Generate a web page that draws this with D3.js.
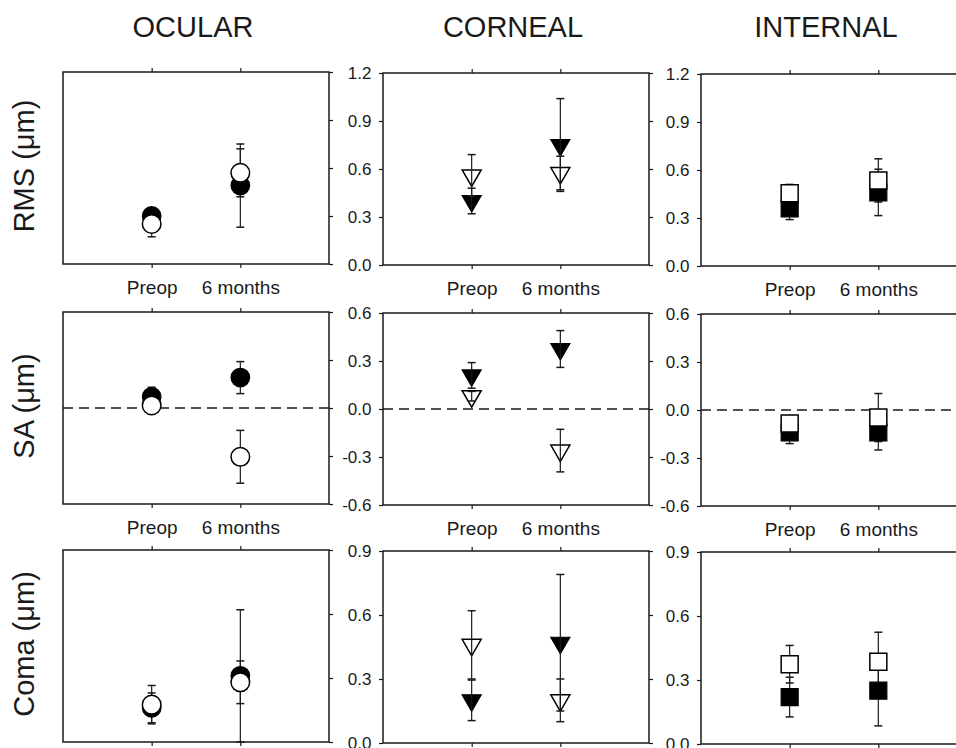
<!DOCTYPE html>
<html>
<head>
<meta charset="utf-8">
<script src="https://cdn.jsdelivr.net/npm/d3@7"></script>
<style>
  body { margin: 0; background: #fff; }
  svg { display: block; font-family: "Liberation Sans", Arial, sans-serif; }
</style>
</head>
<body>
<svg id="chart" width="956" height="748"></svg>
<script>
// column / row names
const columns = ["OCULAR", "CORNEAL", "INTERNAL"];
const rowTitles = ["RMS (\u03bcm)", "SA (\u03bcm)", "Coma (\u03bcm)"];
const timepoints = ["Preop", "6 months"];

// y axis per row
const yDomains = [[0, 1.2], [-0.6, 0.6], [0, 0.9]];
const yTicks = [
    [0, 0.3, 0.6, 0.9, 1.2],
    [-0.6, -0.3, 0, 0.3, 0.6],
    [0, 0.3, 0.6, 0.9]
];

// values indexed [row][column][timepoint]
const filledMean = [
    [[0.30, 0.49], [0.40, 0.75], [0.36, 0.46]],
    [[0.07, 0.19], [0.21, 0.375], [-0.14, -0.14]],
    [[0.16, 0.31], [0.20, 0.47], [0.22, 0.25]]
];
const filledErr = [
    [[0.03, 0.26], [0.08, 0.29], [0.07, 0.145]],
    [[0.06, 0.10], [0.08, 0.115], [0.07, 0.11]],
    [[0.07, 0.31], [0.095, 0.32], [0.093, 0.165]]
];
const openMean = [
    [[0.25, 0.57], [0.56, 0.575], [0.455, 0.535]],
    [[0.016, -0.305], [0.08, -0.26], [-0.085, -0.047]],
    [[0.175, 0.28], [0.46, 0.20], [0.374, 0.386]]
];
const openErr = [
    [[0.08, 0.15], [0.13, 0.105], [0.055, 0.135]],
    [[0.04, 0.165], [0.03, 0.133], [0.05, 0.15]],
    [[0.09, 0.10], [0.16, 0.10], [0.088, 0.138]]
];

// layout
const colX = [63, 383, 701];
const colDy = [0, 1, 2];
const rowY = [72, 312, 550];
const panelW = 266;
const panelH = 192;
const titleX = [193, 513, 826];
const ink = "#1a1a1a";

const svg = d3.select("#chart");

// symbol per column: circle, down triangle, square
const symbolFor = [
    d3.symbol(d3.symbolCircle, Math.PI * 9.3 * 9.3),
    d3.symbol(d3.symbolTriangle, 157),
    d3.symbol(d3.symbolSquare, 289)
];

// column titles
columns.forEach((name, c) => {
    svg.append("text")
        .attr("x", titleX[c])
        .attr("y", 37)
        .attr("text-anchor", "middle")
        .attr("font-size", 29)
        .attr("fill", ink)
        .text(name);
});

// row titles
rowTitles.forEach((name, r) => {
    const cy = rowY[r] + panelH / 2 - 2;
    svg.append("text")
        .attr("transform", `translate(34,${cy}) rotate(-90)`)
        .attr("text-anchor", "middle")
        .attr("font-size", 29)
        .attr("fill", ink)
        .text(name);
});

function drawErrorBar(g, x, y, mean, err) {
    const top = y(mean + err);
    const bot = y(mean - err);
    g.append("line")
        .attr("x1", x).attr("x2", x)
        .attr("y1", top).attr("y2", bot)
        .attr("stroke", ink).attr("stroke-width", 1.2);
    [top, bot].forEach(v => {
        g.append("line")
            .attr("x1", x - 4).attr("x2", x + 4)
            .attr("y1", v).attr("y2", v)
            .attr("stroke", ink).attr("stroke-width", 1.5);
    });
}

function drawPanel(r, c) {
    const left = colX[c];
    const top = rowY[r] + colDy[c];
    const g = svg.append("g").attr("transform", `translate(${left},${top})`);

    const x = d3.scalePoint().domain(timepoints).range([0, panelW]).padding(1);
    const y = d3.scaleLinear().domain(yDomains[r]).range([panelH, 0]);

    // frame
    g.append("rect")
        .attr("width", panelW).attr("height", panelH)
        .attr("fill", "#fff")
        .attr("stroke", ink).attr("stroke-width", 1.5);

    // zero reference for SA
    if (yDomains[r][0] < 0) {
        g.append("line")
            .attr("x1", 0).attr("x2", panelW)
            .attr("y1", y(0)).attr("y2", y(0))
            .attr("stroke", ink).attr("stroke-width", 1.5)
            .attr("stroke-dasharray", "10,6");
    }

    // axes (ticks only, frame is the rect)
    const fmt = d => d.toFixed(1);
    const styleAxis = sel => {
        sel.select(".domain").remove();
        sel.selectAll("line").attr("stroke", ink).attr("stroke-width", 1.2);
        sel.selectAll("text").attr("fill", ink).attr("font-family", null);
    };

    if (c > 0) {
        g.append("g")
            .call(d3.axisLeft(y).tickValues(yTicks[r]).tickSize(4).tickPadding(7.5).tickFormat(fmt))
            .call(styleAxis)
            .selectAll("text").attr("font-size", 17);
    }
    g.append("g")
        .attr("transform", `translate(${panelW},0)`)
        .call(d3.axisRight(y).tickValues(yTicks[r]).tickSize(4).tickFormat(""))
        .call(styleAxis);

    g.append("g")
        .call(d3.axisTop(x).tickSize(4).tickFormat(""))
        .call(styleAxis);

    const bottomAxis = d3.axisBottom(x).tickSize(4).tickPadding(12.5);
    if (r === 2) bottomAxis.tickFormat("");
    g.append("g")
        .attr("transform", `translate(0,${panelH})`)
        .call(bottomAxis)
        .call(styleAxis)
        .selectAll("text").attr("font-size", 19);

    const isTriangle = c === 1;
    const sym = symbolFor[c];
    const rot = isTriangle ? " rotate(180)" : "";

    const errors = () => {
        timepoints.forEach((t, i) => {
            drawErrorBar(g, x(t), y, filledMean[r][c][i], filledErr[r][c][i]);
            drawErrorBar(g, x(t), y, openMean[r][c][i], openErr[r][c][i]);
        });
    };

    if (!isTriangle) errors();

    // filled symbols
    g.selectAll(".filled")
        .data(timepoints)
        .join("path")
        .attr("class", "filled")
        .attr("d", sym)
        .attr("transform", (t, i) => `translate(${x(t)},${y(filledMean[r][c][i])})${rot}`)
        .attr("fill", "#000")
        .attr("stroke", "#000")
        .attr("stroke-width", 1.2);

    // open symbols
    g.selectAll(".open")
        .data(timepoints)
        .join("path")
        .attr("class", "open")
        .attr("d", sym)
        .attr("transform", (t, i) => `translate(${x(t)},${y(openMean[r][c][i])})${rot}`)
        .attr("fill", "#fff")
        .attr("stroke", "#000")
        .attr("stroke-width", 1.5);

    if (isTriangle) errors();
}

for (let r = 0; r < rowTitles.length; r++) {
    for (let c = 0; c < columns.length; c++) {
        drawPanel(r, c);
    }
}
</script>
</body>
</html>
